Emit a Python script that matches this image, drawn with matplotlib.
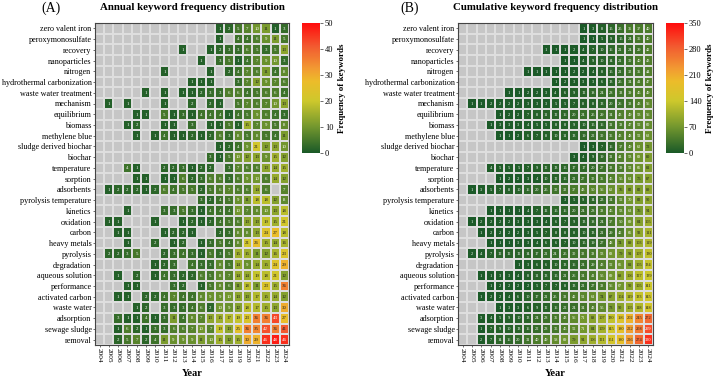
import numpy as np
import matplotlib.pyplot as plt
from matplotlib.colors import LinearSegmentedColormap

years = [str(y) for y in range(2004, 2025)]

keywords = ['zero valent iron', 'peroxymonosulfate', 'recovery', 'nanoparticles', 'nitrogen',
            'hydrothermal carbonization', 'waste water treatment', 'mechanism', 'equilibrium',
            'biomass', 'methylene blue', 'sludge derived biochar', 'biochar', 'temperature',
            'sorption', 'adsorbents', 'pyrolysis temperature', 'kinetics', 'oxidation', 'carbon',
            'heavy metals', 'pyrolysis', 'degradation', 'aqueous solution', 'performance',
            'activated carbon', 'waste water', 'adsorption', 'sewage sludge', 'removal']

# annual counts, 2004 ... 2024 (0 = no paper, drawn grey)
annual = np.array([
    [0, 0, 0, 0, 0, 0, 0, 0, 0, 0, 0, 0, 0, 1, 2, 5, 7, 10, 11, 1, 3],
    [0, 0, 0, 0, 0, 0, 0, 0, 0, 0, 0, 0, 0, 1, 0, 4, 4, 6, 9, 11, 5],
    [0, 0, 0, 0, 0, 0, 0, 0, 0, 1, 0, 0, 1, 2, 3, 3, 6, 5, 3, 5, 13],
    [0, 0, 0, 0, 0, 0, 0, 0, 0, 0, 0, 1, 0, 3, 5, 1, 4, 7, 9, 10, 3],
    [0, 0, 0, 0, 0, 0, 0, 1, 0, 0, 0, 0, 1, 0, 2, 4, 7, 6, 11, 4, 8],
    [0, 0, 0, 0, 0, 0, 0, 0, 0, 0, 1, 1, 1, 0, 0, 3, 7, 12, 9, 7, 6],
    [0, 0, 0, 0, 0, 1, 0, 1, 0, 1, 1, 2, 3, 3, 6, 6, 4, 5, 6, 6, 4],
    [0, 1, 0, 1, 0, 0, 0, 1, 0, 0, 2, 0, 2, 1, 0, 5, 7, 6, 7, 10, 13],
    [0, 0, 0, 0, 1, 1, 0, 5, 1, 3, 1, 4, 4, 4, 1, 4, 5, 9, 6, 4, 3],
    [0, 0, 0, 1, 2, 0, 0, 1, 1, 0, 3, 0, 1, 1, 5, 1, 15, 7, 9, 5, 8],
    [0, 0, 0, 0, 1, 0, 1, 4, 1, 1, 2, 1, 2, 6, 3, 8, 5, 8, 5, 4, 11],
    [0, 0, 0, 0, 0, 0, 0, 0, 0, 0, 0, 0, 0, 1, 2, 4, 9, 21, 12, 13, 10],
    [0, 0, 0, 0, 0, 0, 0, 0, 0, 0, 0, 0, 3, 1, 5, 10, 12, 13, 9, 15, 12],
    [0, 0, 0, 4, 1, 0, 0, 2, 2, 3, 1, 2, 2, 0, 3, 7, 6, 6, 13, 14, 15],
    [0, 0, 0, 0, 1, 1, 0, 1, 1, 6, 2, 3, 6, 6, 3, 6, 9, 10, 6, 14, 12],
    [0, 1, 2, 2, 2, 1, 2, 6, 4, 5, 5, 2, 5, 6, 7, 6, 6, 14, 6, 0, 7],
    [0, 0, 0, 0, 0, 0, 0, 0, 0, 0, 0, 3, 2, 4, 5, 9, 11, 18, 18, 12, 8],
    [0, 0, 0, 1, 0, 0, 0, 3, 3, 5, 3, 1, 4, 4, 4, 10, 7, 8, 10, 13, 18],
    [0, 1, 1, 0, 0, 0, 1, 0, 0, 1, 2, 1, 2, 4, 5, 6, 13, 13, 19, 15, 21],
    [0, 0, 1, 1, 0, 0, 0, 1, 2, 2, 1, 0, 0, 2, 3, 8, 8, 13, 24, 27, 18],
    [0, 0, 0, 1, 0, 0, 2, 0, 1, 2, 0, 1, 3, 5, 4, 8, 21, 26, 15, 14, 16],
    [0, 2, 2, 3, 5, 0, 0, 2, 3, 4, 3, 1, 5, 3, 5, 15, 15, 11, 12, 16, 23],
    [0, 0, 0, 0, 0, 0, 1, 2, 3, 0, 4, 3, 3, 8, 5, 14, 9, 14, 15, 24, 29],
    [0, 0, 1, 0, 2, 0, 1, 4, 3, 2, 2, 6, 5, 8, 7, 14, 14, 19, 18, 21, 12],
    [0, 0, 0, 1, 1, 0, 0, 0, 3, 2, 0, 1, 5, 8, 6, 11, 18, 11, 23, 15, 36],
    [0, 0, 1, 1, 0, 2, 2, 4, 7, 4, 4, 8, 9, 9, 10, 13, 13, 17, 15, 14, 12],
    [0, 0, 0, 0, 1, 2, 0, 3, 3, 3, 4, 6, 2, 10, 9, 12, 18, 17, 15, 13, 30],
    [0, 0, 3, 1, 1, 4, 1, 3, 11, 4, 8, 7, 13, 15, 17, 19, 23, 36, 36, 43, 27],
    [0, 0, 1, 6, 2, 1, 3, 3, 6, 6, 7, 10, 7, 19, 13, 25, 36, 35, 42, 36, 41],
    [0, 0, 2, 5, 7, 2, 4, 11, 9, 9, 9, 11, 10, 15, 12, 15, 30, 29, 46, 48, 46],
])

# panel B is the running total of panel A
cumulative = np.cumsum(annual, axis=1)

plt.rcParams['font.family'] = ['Liberation Serif', 'DejaVu Serif']

cmap = LinearSegmentedColormap.from_list('freq', [
    (0.0, '#1b5a28'), (0.2, '#72962e'), (0.4, '#cdc82c'),
    (0.55, '#ecbc2a'), (0.65, '#f29a32'), (0.82, '#f25a30'), (1.0, '#ff0d0d')])
cmap.set_bad('#c6c6c6')

W, H = 715, 379
fig = plt.figure(figsize=(W / 100, H / 100), dpi=100)


def box(x0, y0, x1, y1):
    return [x0 / W, 1 - y1 / H, (x1 - x0) / W, (y1 - y0) / H]


def draw(ax, cax, data, vmax, ticks, title, tag, tag_x, fsize):
    masked = np.ma.masked_where(data == 0, data)
    mesh = ax.pcolormesh(masked, cmap=cmap, vmin=0, vmax=vmax,
                         edgecolors='#dedede', linewidth=0.3)
    ax.set_facecolor('#c6c6c6')
    ax.set_xlim(0, data.shape[1])
    ax.set_ylim(data.shape[0], 0)
    for i in range(data.shape[0]):
        for j in range(data.shape[1]):
            v = data[i, j]
            if v == 0:
                continue
            r, g, b, _ = cmap(v / vmax)
            lum = 0.299 * r + 0.587 * g + 0.114 * b
            ax.text(j + 0.5, i + 0.53, str(v), ha='center', va='center',
                    fontsize=fsize, color='white' if lum < 0.5 else '#222222')
    ax.set_xticks(np.arange(len(years)) + 0.5)
    ax.set_xticklabels(years, rotation=270, fontsize=5.3)
    ax.set_yticks(np.arange(len(keywords)) + 0.5)
    ax.set_yticklabels(keywords, fontsize=5.9)
    ax.tick_params(length=1.5, width=0.4, pad=1)
    for s in ax.spines.values():
        s.set_linewidth(0.8)
        s.set_color('#444444')
    ax.set_xlabel('Year', fontweight='bold', fontsize=7.5, labelpad=4)

    pos = ax.get_position()
    cx = (pos.x0 + pos.x1) / 2
    fig.text(cx, 1 - 8 / H, title, ha='center', va='center',
             fontweight='bold', fontsize=7.8)
    fig.text(tag_x / W, 1 - 8 / H, tag, ha='center', va='center', fontsize=10)

    cb = fig.colorbar(mesh, cax=cax, ticks=ticks)
    cb.outline.set_visible(False)
    cb.ax.tick_params(labelsize=6, length=2, width=0.4, pad=1.5)
    cb.set_label('Frequency of keywords', fontweight='bold', fontsize=6.5, labelpad=3)


ax1 = fig.add_axes(box(95, 23, 289, 345))
cax1 = fig.add_axes(box(302, 23, 320, 153))
ax2 = fig.add_axes(box(458, 23, 653, 345))
cax2 = fig.add_axes(box(666, 23, 684, 153))

draw(ax1, cax1, annual, 50, [0, 10, 20, 30, 40, 50],
     'Annual keyword frequency distribution', '(A)', 51, 3.5)
draw(ax2, cax2, cumulative, 350, [0, 70, 140, 210, 280, 350],
     'Cumulative keyword frequency distribution', '(B)', 410, 3.2)

fig.savefig('out.png', dpi=100)
